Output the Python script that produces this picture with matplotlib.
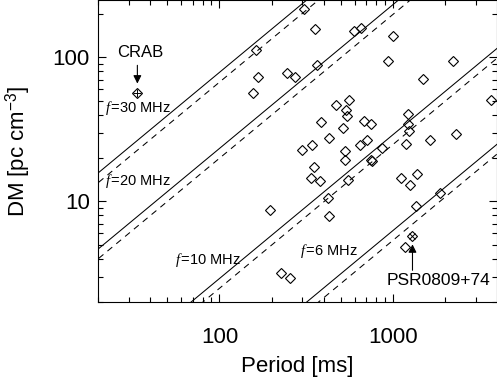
import numpy as np
import matplotlib
matplotlib.use('Agg')
from matplotlib import pyplot as plt

plt.rcParams['font.family'] = ['Liberation Sans', 'DejaVu Sans']
plt.rcParams['mathtext.fontset'] = 'custom'
plt.rcParams['mathtext.rm'] = 'Liberation Sans'
plt.rcParams['mathtext.it'] = 'Liberation Serif:italic'

# pulsars (period in ms, DM in pc cm^-3)
period_ms = [305, 356, 599, 655, 1004, 163, 166, 156, 245, 271,
             364, 932, 2213, 1493, 3656, 470, 556, 535, 546, 384,
             675, 741, 516, 1219, 1219, 1231, 428, 297, 341, 525,
             525, 646, 709, 861, 1183, 1625, 2311, 741, 757, 348,
             338, 380, 549, 1107, 1368, 1257, 419, 1862, 195, 425,
             227, 254, 1349, 1172]
dm = [215, 157, 152, 159, 141, 112, 73, 56.9, 77.8, 73,
      88, 93.8, 93.8, 70.7, 50.8, 46.7, 50.8, 43.3, 39.4, 35.4,
      36.1, 34.6, 32.3, 40.7, 34.6, 30.6, 27.4, 22.9, 24.5, 22.5,
      19.3, 24.8, 26.5, 23.4, 24.9, 26.5, 29.5, 19.5, 19.0, 17.2,
      14.6, 13.8, 14.0, 14.5, 15.6, 12.9, 10.6, 11.4, 8.75, 7.87,
      3.17, 2.93, 9.27, 4.82]

crab = (33.4, 56.8)
psr0809 = (1292.0, 5.75)

# limiting lines DM = c * P * f^3
freqs_mhz = [30, 20, 10, 6]
freq_labels = ['$f\\,$=30 MHz', '$f\\,$=20 MHz', '$f\\,$=10 MHz',
               '$f\\,$=6 MHz']
coef = 2.91e-5
dashed_factor = 0.855

fig = plt.figure(figsize=(4.97, 3.84), dpi=100)
ax = fig.add_axes([98 / 497., 82 / 384., 398.8 / 497., 302 / 384.])
ax.set_xscale('log')
ax.set_yscale('log')

p = np.logspace(np.log10(10), np.log10(5000), 200)
for f in freqs_mhz:
    ax.plot(p, coef * p * f ** 3, color='black', lw=0.75)
    ax.plot(p, dashed_factor * coef * p * f ** 3, color='black', lw=0.75,
            dashes=(6, 5))

ax.plot(period_ms, dm, linestyle='none', marker='D', markersize=4.6,
        markerfacecolor='none', markeredgecolor='black', markeredgewidth=0.8)

# special pulsars
ax.plot(*crab, linestyle='none', marker='D', markersize=4.6,
        markerfacecolor='none', markeredgecolor='black', markeredgewidth=0.8)
ax.plot(*crab, linestyle='none', marker='+', markersize=6,
        markeredgecolor='black', markeredgewidth=0.7)
ax.plot(*psr0809, linestyle='none', marker='D', markersize=4.6,
        markerfacecolor='none', markeredgecolor='black', markeredgewidth=0.8)
ax.plot(*psr0809, linestyle='none', marker='x', markersize=4.5,
        markeredgecolor='black', markeredgewidth=0.7)

arrow = dict(arrowstyle='-|>', color='black', lw=0.8,
             mutation_scale=12, shrinkA=0, shrinkB=0)
ax.annotate('', xy=(33.7, 65.7), xytext=(33.7, 88.0), arrowprops=arrow)
ax.text(35.0, 108.3, 'CRAB', fontsize=12, ha='center', va='center')
ax.annotate('', xy=(1292, 5.03), xytext=(1292, 3.32), arrowprops=arrow)
ax.text(1836, 2.80, 'PSR0809+74', fontsize=12.5, ha='center', va='center')

label_pos = [(21.8, 44.2), (21.8, 13.8), (55.8, 3.89), (292, 4.53)]
for (x, y), lab in zip(label_pos, freq_labels):
    ax.text(x, y, lab, fontsize=10.5, ha='left', va='center')

ax.set_xlim(20, 3950)
ax.set_ylim(2, 250)
ax.tick_params(which='both', direction='in', top=True, right=True,
               width=0.8, colors='black')
ax.tick_params(which='major', length=6, labelsize=16)
ax.tick_params(which='minor', length=3.5)
ax.tick_params(axis='x', which='major', pad=18)
ax.tick_params(axis='y', which='major', pad=6)
ax.xaxis.set_major_formatter(matplotlib.ticker.FuncFormatter(
    lambda v, pos: '%d' % v))
ax.yaxis.set_major_formatter(matplotlib.ticker.FuncFormatter(
    lambda v, pos: '%d' % v))
ax.xaxis.set_minor_formatter(matplotlib.ticker.NullFormatter())
ax.yaxis.set_minor_formatter(matplotlib.ticker.NullFormatter())
for s in ax.spines.values():
    s.set_linewidth(0.8)

ax.set_xlabel('Period [ms]', fontsize=16, labelpad=6)
ax.set_ylabel('DM [pc cm$^{-3}$]', fontsize=16, labelpad=14)

fig.savefig('out.png', dpi=100)
